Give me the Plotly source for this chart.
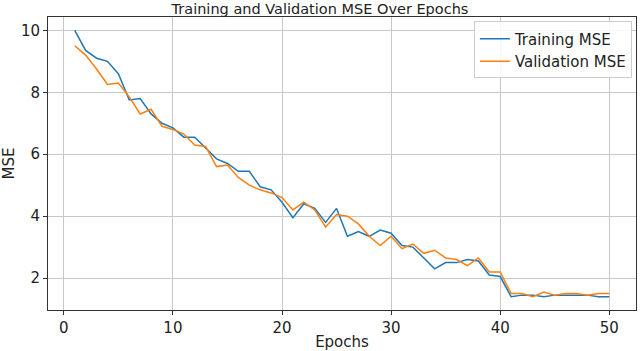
import plotly.graph_objects as go

epochs = list(range(1, 51))
train_mse = [10.0, 9.35, 9.1, 9.0, 8.6, 7.75, 7.8, 7.3, 7.0, 6.85,
             6.55, 6.55, 6.2, 5.85, 5.7, 5.45, 5.45, 4.95, 4.85, 4.45,
             3.95, 4.4, 4.25, 3.8, 4.25, 3.35, 3.5, 3.35, 3.55, 3.45,
             3.05, 3.0, 2.65, 2.3, 2.5, 2.5, 2.6, 2.55, 2.1, 2.05,
             1.4, 1.45, 1.45, 1.4, 1.45, 1.45, 1.45, 1.45, 1.4, 1.4]
val_mse = [9.5, 9.2, 8.75, 8.25, 8.3, 7.85, 7.3, 7.45, 6.9, 6.8,
           6.65, 6.3, 6.25, 5.6, 5.65, 5.25, 5.0, 4.85, 4.75, 4.6,
           4.2, 4.45, 4.2, 3.65, 4.05, 4.0, 3.75, 3.35, 3.05, 3.35,
           2.95, 3.1, 2.8, 2.9, 2.65, 2.6, 2.4, 2.65, 2.2, 2.2,
           1.5, 1.5, 1.4, 1.55, 1.45, 1.5, 1.5, 1.45, 1.5, 1.5]
x_ticks = [0, 10, 20, 30, 40, 50]
y_ticks = [2, 4, 6, 8, 10]

fig = go.Figure()
fig.add_trace(go.Scatter(x=epochs, y=train_mse, mode="lines", name="Training MSE",
                         line=dict(color="#1f77b4", width=1.5)))
fig.add_trace(go.Scatter(x=epochs, y=val_mse, mode="lines", name="Validation MSE",
                         line=dict(color="#ff7f0e", width=1.5)))

axis_common = dict(showline=True, linecolor="#333333", linewidth=1, mirror=True,
                   showgrid=True, gridcolor="#c8c8c8", gridwidth=1,
                   ticks="outside", ticklen=4, tickcolor="#333333",
                   tickfont=dict(size=15, color="#222222"), zeroline=False,
                   automargin=False)

fig.update_layout(
    width=640, height=351,
    margin=dict(l=48, r=4, t=17, b=41),
    paper_bgcolor="white", plot_bgcolor="white",
    font=dict(family="DejaVu Sans", color="#222222"),
    title=dict(text="Training and Validation MSE Over Epochs", x=0.5, xanchor="center",
               y=0.974, yanchor="middle", font=dict(size=14.5)),
    xaxis=dict(axis_common, range=[-1.45, 52.45], tickvals=x_ticks,
               title=dict(text="Epochs", font=dict(size=15), standoff=4)),
    yaxis=dict(axis_common, range=[0.97, 10.43], tickvals=y_ticks,
               title=dict(text="MSE", font=dict(size=15), standoff=6)),
    legend=dict(x=0.993, y=0.985, xanchor="right", yanchor="top",
                bgcolor="rgba(255,255,255,0.85)", bordercolor="#cccccc", borderwidth=1,
                font=dict(size=15), tracegroupgap=0),
    showlegend=True,
)

fig.write_html("out.html")
